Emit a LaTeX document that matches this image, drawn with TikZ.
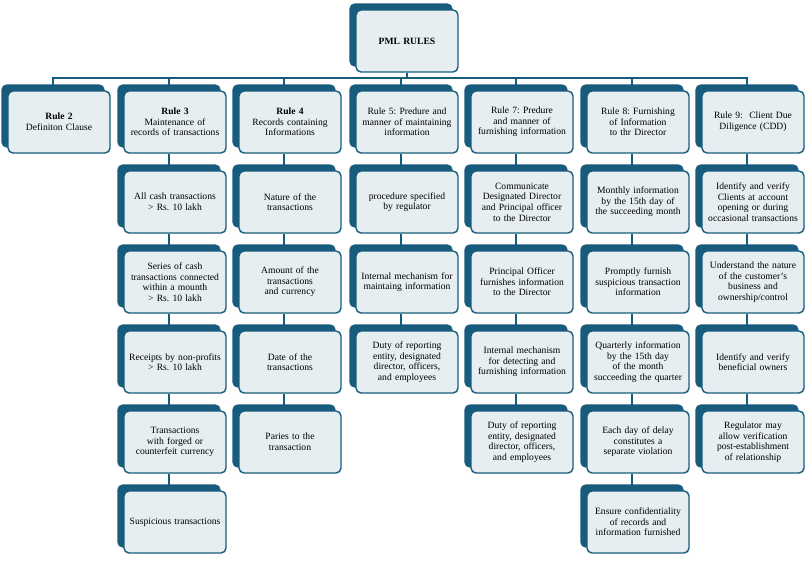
\documentclass[tikz,border=0pt]{standalone}
\usepackage{fontspec}
\setmainfont{Liberation Serif}
\usetikzlibrary{backgrounds}
\definecolor{dk}{RGB}{24,92,125}
\definecolor{lt}{RGB}{230,238,242}
\newcommand\bxfont{\fontsize{9.6}{10.6}\selectfont\frenchspacing\hyphenpenalty=10000\relax\exhyphenpenalty=10000\relax}
\tikzset{
 bx/.style={draw=dk, line width=1.4pt, fill=lt, rounded corners=5pt, minimum width=102pt, minimum height=62pt, text width=92pt, align=center, inner sep=2pt, font=\bxfont,
  preaction={fill=dk, draw=dk, transform canvas={shift={(-6pt,6pt)}}}},
 ln/.style={draw=dk, line width=2pt}
}
\begin{document}
\begin{tikzpicture}[x=1pt,y=-1pt]
\useasboundingbox (0,0) rectangle (810,560);
\node[bx] (pml) at (407,41) {\textbf{PML RULES}};
\node[bx] (r2) at (59,122) {\textbf{Rule 2}\\Definiton Clause};
\node[bx] (r3) at (175,122) {\textbf{Rule 3}\\Maintenance of records of transactions};
\node[bx] (r4) at (290,122) {\textbf{Rule 4}\\Records containing Informations};
\node[bx] (r5) at (407,122) {Rule 5: Predure and manner of maintaining information\\[6pt]};
\node[bx] (r7) at (522,122) {Rule 7: Predure and manner of furnishing information\\[6pt]};
\node[bx] (r8) at (638,122) {Rule 8: Furnishing of Information to thr Director\\[12pt]};
\node[bx] (r9) at (753,122) {Rule 9:\ \ Client Due Diligence (CDD)\\[6pt]};
% Rule 3 children
\node[bx] (a1) at (175,202) {All cash transactions > Rs. 10 lakh};
\node[bx] (a2) at (175,282) {Series of cash transactions connected within a mounth > Rs. 10 lakh};
\node[bx] (a3) at (175,362) {Receipts by non-profits > Rs. 10 lakh};
\node[bx] (a4) at (175,442) {Transactions with forged or counterfeit currency};
\node[bx] (a5) at (175,522) {Suspicious transactions};
% Rule 4 children
\node[bx] (b1) at (290,202) {Nature of the transactions};
\node[bx] (b2) at (290,282) {Amount of the transactions and currency};
\node[bx] (b3) at (290,362) {Date of the transactions};
\node[bx] (b4) at (290,442) {Paries to the transaction};
% Rule 5 children
\node[bx] (c1) at (407,202) {procedure specified by regulator};
\node[bx] (c2) at (407,282) {Internal mechanism for maintaing information};
\node[bx] (c3) at (407,362) {Duty of reporting entity, designated director, officers, and employees};
% Rule 7 children
\node[bx] (d1) at (522,202) {Communicate Designated Director and Principal officer to the Director};
\node[bx] (d2) at (522,282) {Principal Officer furnishes information to the Director};
\node[bx] (d3) at (522,362) {Internal mechanism for detecting and furnishing information};
\node[bx] (d4) at (522,442) {Duty of reporting entity, designated director, officers, and employees};
% Rule 8 children
\node[bx] (e1) at (638,202) {Monthly information by the 15th day of the succeeding month};
\node[bx] (e2) at (638,282) {Promptly furnish suspicious transaction information};
\node[bx] (e3) at (638,362) {Quarterly information by the 15th day of the month succeeding the quarter};
\node[bx] (e4) at (638,442) {Each day of delay constitutes a separate violation};
\node[bx] (e5) at (638,522) {Ensure confidentiality of records and information furnished};
% Rule 9 children
\node[bx] (f1) at (753,202) {Identify and verify Clients at account opening or during occasional transactions};
\node[bx] (f2) at (753,282) {Understand the nature of the customer's business and ownership/control};
\node[bx] (f3) at (753,362) {Identify and verify beneficial owners};
\node[bx] (f4) at (753,442) {Regulator may allow verification post-establishment of relationship};
\begin{pgfonlayer}{background}
\coordinate (bar) at (0,78);
\draw[ln] (pml.south) -- (pml.south|-bar);
\draw[ln] ([xshift=-6pt]r2.north) -- ([xshift=-6pt]r2.north|-bar) -- ([xshift=-6pt]r9.north|-bar) -- ([xshift=-6pt]r9.north);
\foreach \n in {r3,r4,r5,r7,r8}{\draw[ln] ([xshift=-6pt]\n.north|-bar) -- ([xshift=-6pt]\n.north);}
\foreach \u/\v in {r3/a1,a1/a2,a2/a3,a3/a4,a4/a5,r4/b1,b1/b2,b2/b3,b3/b4,r5/c1,c1/c2,c2/c3,r7/d1,d1/d2,d2/d3,d3/d4,r8/e1,e1/e2,e2/e3,e3/e4,e4/e5,r9/f1,f1/f2,f2/f3,f3/f4}{\draw[ln] ([xshift=-6pt]\u.south) -- ([xshift=-6pt]\v.north);}
\end{pgfonlayer}
\end{tikzpicture}
\end{document}
